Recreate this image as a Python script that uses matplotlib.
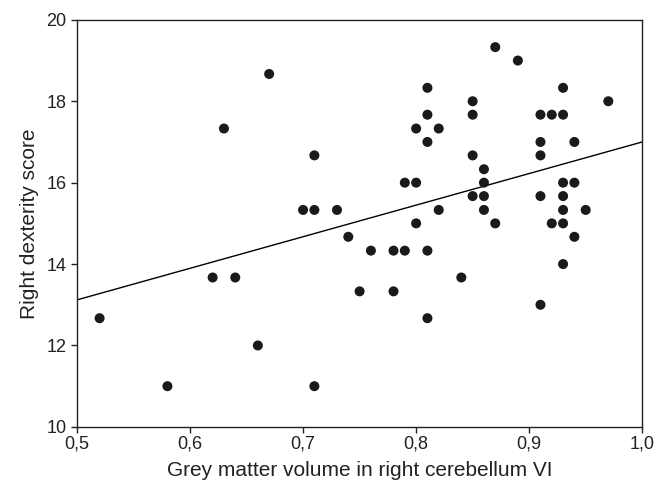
import numpy as np
import matplotlib
matplotlib.use('Agg')
import matplotlib.pyplot as plt
from matplotlib.ticker import FuncFormatter

plt.rcParams['font.family'] = ['Liberation Sans', 'DejaVu Sans']

# grey matter volume (x) and right dexterity score (y)
volume = [0.52, 0.58, 0.62, 0.63, 0.64, 0.66, 0.67, 0.70, 0.71, 0.71,
          0.71, 0.73, 0.74, 0.75, 0.76, 0.78, 0.78, 0.79, 0.79, 0.80,
          0.80, 0.80, 0.81, 0.81, 0.81, 0.81, 0.81, 0.82, 0.82, 0.84,
          0.85, 0.85, 0.85, 0.85, 0.86, 0.86, 0.86, 0.86, 0.87, 0.87,
          0.89, 0.91, 0.91, 0.91, 0.91, 0.91, 0.92, 0.92, 0.93, 0.93,
          0.93, 0.93, 0.93, 0.93, 0.93, 0.94, 0.94, 0.94, 0.95, 0.97]
dexterity = [12.67, 11.0, 13.67, 17.33, 13.67, 12.0, 18.67, 15.33, 16.67, 15.33,
             11.0, 15.33, 14.67, 13.33, 14.33, 14.33, 13.33, 14.33, 16.0, 16.0,
             17.33, 15.0, 18.33, 17.67, 17.0, 14.33, 12.67, 17.33, 15.33, 13.67,
             18.0, 17.67, 16.67, 15.67, 16.33, 16.0, 15.67, 15.33, 19.33, 15.0,
             19.0, 17.67, 17.0, 16.67, 15.67, 13.0, 17.67, 15.0, 18.33, 17.67,
             16.0, 15.67, 15.33, 15.0, 14.0, 17.0, 16.0, 14.67, 15.33, 18.0]

# fitted line as printed (end points)
fit_x = [0.5, 1.0]
fit_y = [13.12, 17.0]

xticks = [0.5, 0.6, 0.7, 0.8, 0.9, 1.0]
yticks = [10, 12, 14, 16, 18, 20]

fig = plt.figure(figsize=(6.58, 4.84), dpi=100)
ax = fig.add_axes([0.117, 0.118, 0.859, 0.841])

ax.scatter(volume, dexterity, s=52, color='#1a1a1a', edgecolors='none', zorder=3)
ax.plot(fit_x, fit_y, color='black', linewidth=1.0)

ax.set_xlim(0.5, 1.0)
ax.set_ylim(10, 20)
ax.set_xticks(xticks)
ax.set_yticks(yticks)
ax.xaxis.set_major_formatter(FuncFormatter(lambda v, p: ('%.1f' % v).replace('.', ',')))
ax.tick_params(direction='out', length=4, width=1, labelsize=13, colors='#222222')
ax.tick_params(axis='x', pad=2.5)
for s in ax.spines.values():
    s.set_linewidth(1.0)
    s.set_color('#222222')

ax.set_xlabel('Grey matter volume in right cerebellum VI', fontsize=15, color='#222222', labelpad=6)
ax.set_ylabel('Right dexterity score', fontsize=15, color='#222222', labelpad=5)

plt.savefig('out.png', dpi=100)
plt.close()
